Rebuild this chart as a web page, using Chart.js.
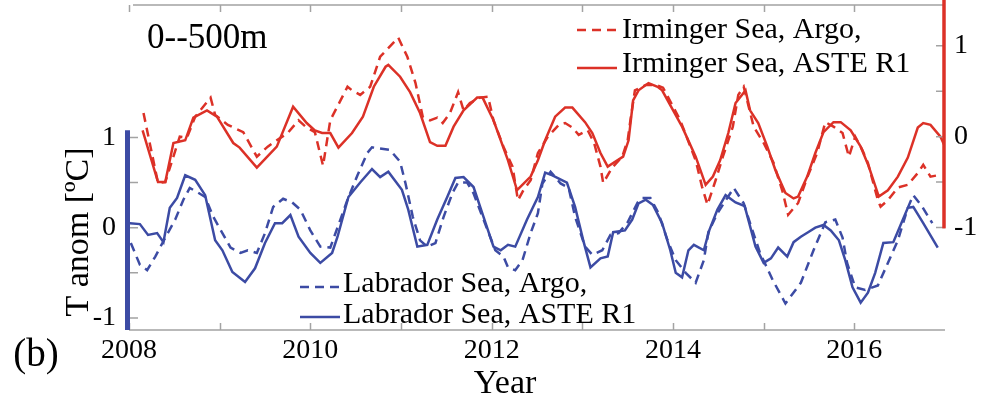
<!DOCTYPE html>
<html>
<head>
<meta charset="utf-8">
<script src="https://cdn.jsdelivr.net/npm/chart.js@4.4.1/dist/chart.umd.min.js"></script>
<style>
  html, body { margin: 0; padding: 0; background: #fff; }
  #wrap { width: 986px; height: 403px; }
</style>
</head>
<body>
<div id="wrap"><canvas id="tempChart" width="986" height="403"></canvas></div>
<script>
// Irminger Sea (right axis, red)
const irmArgoYears = [
  2008.16, 2008.32, 2008.40, 2008.56, 2008.64, 2008.73, 2008.90, 2008.95,
  2009.09, 2009.26, 2009.41, 2009.53, 2009.63, 2009.75, 2009.87, 2009.96,
  2010.05, 2010.14, 2010.22, 2010.41, 2010.46, 2010.55, 2010.66, 2010.77, 2010.97,
  2011.07, 2011.16, 2011.24, 2011.32, 2011.40, 2011.46, 2011.54, 2011.63, 2011.69, 2011.76, 2011.87, 2011.96,
  2012.02, 2012.13, 2012.23, 2012.29, 2012.35, 2012.43, 2012.51, 2012.62, 2012.74, 2012.81, 2012.89, 2012.96,
  2013.06, 2013.13, 2013.20, 2013.23, 2013.33, 2013.44, 2013.50, 2013.53, 2013.58, 2013.70, 2013.81, 2013.89,
  2014.08, 2014.25, 2014.32, 2014.38, 2014.47, 2014.55, 2014.66, 2014.72, 2014.78, 2014.89,
  2015.00, 2015.11, 2015.21, 2015.27, 2015.38, 2015.48, 2015.59, 2015.68, 2015.77, 2015.87, 2015.94,
  2016.01, 2016.09, 2016.15, 2016.26, 2016.29, 2016.37, 2016.48, 2016.59, 2016.70, 2016.76, 2016.84, 2016.95
];
const irmArgoT = [
  0.26, -0.51, -0.50, 0.00, -0.01, 0.22, 0.43, 0.24,
  0.13, 0.05, -0.22, -0.11, -0.04, 0.04, 0.18, 0.10,
  0.05, -0.32, 0.18, 0.55, 0.51, 0.46, 0.55, 0.88, 1.09,
  0.88, 0.59, 0.22, 0.18, 0.21, 0.15, 0.26, 0.49, 0.29, 0.37, 0.43, 0.44,
  0.18, -0.11, -0.33, -0.70, -0.59, -0.48, -0.18, 0.00, 0.13, 0.15, 0.10, 0.02,
  0.07, -0.07, -0.33, -0.51, -0.34, -0.22, -0.04, 0.18, 0.51, 0.57, 0.57, 0.54,
  0.18, -0.26, -0.55, -0.75, -0.48, -0.22, 0.11, 0.46, 0.55, 0.11,
  -0.07, -0.29, -0.61, -0.86, -0.73, -0.45, -0.18, 0.16, 0.11, 0.04, -0.22,
  0.00, -0.15, -0.29, -0.70, -0.77, -0.70, -0.56, -0.53, -0.40, -0.31, -0.44, -0.42
];
const irmAsteYears = [
  2008.15, 2008.32, 2008.40, 2008.49, 2008.62, 2008.71, 2008.86, 2008.97,
  2009.15, 2009.22, 2009.41, 2009.63, 2009.81, 2009.96,
  2010.05, 2010.13, 2010.22, 2010.31, 2010.46, 2010.58, 2010.70, 2010.83, 2010.86, 2010.99,
  2011.10, 2011.21, 2011.32, 2011.40, 2011.49, 2011.58, 2011.69, 2011.84, 2011.90,
  2012.02, 2012.18, 2012.28, 2012.43, 2012.51, 2012.59, 2012.70, 2012.81, 2012.89,
  2013.03, 2013.11, 2013.20, 2013.28, 2013.34, 2013.45, 2013.51, 2013.56, 2013.62, 2013.73, 2013.83, 2013.88,
  2014.10, 2014.25, 2014.36, 2014.44, 2014.52, 2014.61, 2014.69, 2014.80, 2014.85, 2014.94,
  2015.04, 2015.13, 2015.24, 2015.33, 2015.38, 2015.48, 2015.57, 2015.66, 2015.77, 2015.85, 2015.96,
  2016.07, 2016.16, 2016.27, 2016.37, 2016.48, 2016.59, 2016.70, 2016.76, 2016.84, 2016.95, 2017.00
];
const irmAsteT = [
  0.07, -0.50, -0.50, -0.07, -0.04, 0.21, 0.29, 0.22,
  -0.07, -0.12, -0.34, -0.11, 0.33, 0.15,
  0.07, 0.04, 0.04, -0.12, 0.04, 0.22, 0.55, 0.77, 0.79, 0.66,
  0.49, 0.26, -0.06, -0.10, -0.10, 0.11, 0.29, 0.43, 0.43,
  0.18, -0.26, -0.59, -0.44, -0.26, -0.04, 0.22, 0.32, 0.32,
  0.16, 0.04, -0.18, -0.33, -0.29, -0.22, -0.04, 0.40, 0.51, 0.59, 0.55, 0.51,
  0.11, -0.22, -0.53, -0.44, -0.26, 0.04, 0.37, 0.51, 0.29, 0.15,
  -0.11, -0.37, -0.62, -0.68, -0.66, -0.44, -0.18, 0.05, 0.16, 0.16, 0.07,
  -0.11, -0.33, -0.66, -0.59, -0.44, -0.23, 0.10, 0.15, 0.13, 0.00, -0.11
];

// Labrador Sea (left axis, blue)
const labArgoYears = [
  2008.02, 2008.12, 2008.20, 2008.29, 2008.40, 2008.51, 2008.60, 2008.67, 2008.76, 2008.84, 2008.93,
  2009.03, 2009.12, 2009.23, 2009.31, 2009.41, 2009.50, 2009.59, 2009.70, 2009.80, 2009.89,
  2010.00, 2010.11, 2010.22, 2010.31, 2010.41, 2010.52, 2010.63, 2010.68, 2010.88, 2010.99,
  2011.05, 2011.13, 2011.21, 2011.29, 2011.38, 2011.47, 2011.57, 2011.63, 2011.73, 2011.80, 2011.91,
  2012.04, 2012.13, 2012.18, 2012.26, 2012.34, 2012.43, 2012.51, 2012.56, 2012.65, 2012.76, 2012.85, 2012.92,
  2013.03, 2013.11, 2013.22, 2013.31, 2013.40, 2013.50, 2013.61, 2013.66, 2013.75, 2013.84, 2013.94,
  2014.03, 2014.14, 2014.25, 2014.34, 2014.39, 2014.49, 2014.58, 2014.67, 2014.78, 2014.85, 2014.96,
  2015.10, 2015.24, 2015.41, 2015.55, 2015.68, 2015.79, 2015.87, 2015.92,
  2016.01, 2016.12, 2016.26, 2016.37, 2016.48, 2016.59, 2016.65, 2016.75, 2016.86
];
const labArgoT = [
  -0.17, -0.41, -0.47, -0.32, -0.11, 0.09, 0.31, 0.44, 0.39, 0.34, 0.12,
  -0.06, -0.22, -0.28, -0.25, -0.28, -0.06, 0.23, 0.32, 0.28, 0.20,
  -0.03, -0.21, -0.22, 0.03, 0.31, 0.58, 0.83, 0.89, 0.86, 0.73,
  0.49, 0.12, -0.14, -0.21, -0.17, 0.12, 0.39, 0.50, 0.50, 0.38, 0.09,
  -0.25, -0.32, -0.44, -0.47, -0.36, -0.06, 0.16, 0.49, 0.62, 0.49, 0.44, 0.12,
  -0.21, -0.30, -0.25, -0.08, -0.06, 0.06, 0.28, 0.33, 0.33, 0.16, -0.14,
  -0.36, -0.50, -0.61, -0.36, -0.05, 0.16, 0.30, 0.44, 0.27, 0.05, -0.28,
  -0.58, -0.84, -0.61, -0.25, 0.06, 0.09, -0.11, -0.39,
  -0.66, -0.69, -0.64, -0.39, -0.14, 0.22, 0.36, 0.23, 0.05
];
const labAsteYears = [
  2008.01, 2008.12, 2008.21, 2008.31, 2008.38, 2008.45, 2008.53, 2008.62, 2008.73, 2008.84, 2008.95,
  2009.03, 2009.14, 2009.28, 2009.39, 2009.50, 2009.61, 2009.69, 2009.78, 2009.87,
  2010.00, 2010.11, 2010.24, 2010.30, 2010.42, 2010.55, 2010.68, 2010.77, 2010.86,
  2011.01, 2011.08, 2011.18, 2011.29, 2011.40, 2011.51, 2011.60, 2011.69, 2011.80, 2011.91,
  2012.02, 2012.10, 2012.18, 2012.26, 2012.39, 2012.51, 2012.59, 2012.67, 2012.83, 2012.92,
  2013.01, 2013.09, 2013.20, 2013.28, 2013.34, 2013.47, 2013.55, 2013.62, 2013.70, 2013.78, 2013.88, 2013.97,
  2014.03, 2014.10, 2014.17, 2014.23, 2014.34, 2014.40, 2014.49, 2014.58, 2014.69, 2014.79, 2014.91,
  2015.00, 2015.08, 2015.16, 2015.26, 2015.33, 2015.41, 2015.49, 2015.57, 2015.66, 2015.74, 2015.83, 2015.90, 2015.98,
  2016.07, 2016.15, 2016.23, 2016.32, 2016.43, 2016.51, 2016.59, 2016.65, 2016.76, 2016.92
];
const labAsteT = [
  0.05, 0.04, -0.08, -0.06, -0.16, 0.22, 0.33, 0.58, 0.53, 0.36, -0.14,
  -0.25, -0.49, -0.60, -0.45, -0.17, 0.05, 0.05, 0.14, -0.10,
  -0.28, -0.39, -0.28, -0.10, 0.34, 0.50, 0.65, 0.56, 0.62,
  0.42, 0.20, -0.21, -0.19, 0.09, 0.34, 0.55, 0.56, 0.45, 0.12,
  -0.21, -0.25, -0.19, -0.21, 0.09, 0.34, 0.61, 0.58, 0.50, 0.23,
  -0.14, -0.44, -0.34, -0.32, -0.05, -0.03, 0.09, 0.27, 0.31, 0.25, 0.05, -0.25,
  -0.50, -0.55, -0.25, -0.19, -0.25, -0.03, 0.20, 0.36, 0.28, 0.24, -0.21,
  -0.39, -0.34, -0.22, -0.32, -0.16, -0.10, -0.05, 0.00, 0.03, -0.03, -0.14, -0.36, -0.66,
  -0.83, -0.72, -0.50, -0.17, -0.16, 0.03, 0.22, 0.23, 0.05, -0.22
];

// axes
const xTickYears = [2008, 2009, 2010, 2011, 2012, 2013, 2014, 2015, 2016];
const xLabelYears = [2008, 2010, 2012, 2014, 2016];
const leftTicks = [-1, -0.5, 0, 0.5, 1];
const leftLabels = [-1, 0, 1];
const rightTicks = [-1, -0.5, 0, 0.5, 1];
const rightLabels = [-1, 0, 1];

const RED = "#dc3127";
const BLUE = "#3c4ba4";
const GREY = "#a3a3a3";
const SERIF = "'Liberation Serif', 'DejaVu Serif', serif";

const toPoints = (xs, ys) => xs.map((v, i) => ({ x: v, y: ys[i] }));

const isIn = (list, v) => list.some(l => Math.abs(l - v) < 1e-6);

const noPad = s => {
  s.paddingTop = 0; s.paddingBottom = 0;
  s.paddingLeft = 0; s.paddingRight = 0;
};

const decorPlugin = {
  id: "decor",
  afterDatasetsDraw(chart) {
    const { ctx, chartArea: a, scales } = chart;
    const { x, y, y1 } = scales;
    ctx.save();

    // grey top and bottom frame with inward ticks
    ctx.strokeStyle = GREY;
    ctx.lineWidth = 1.5;
    ctx.beginPath();
    ctx.moveTo(a.left, a.bottom); ctx.lineTo(a.right, a.bottom);
    ctx.moveTo(a.left + 4, a.top); ctx.lineTo(a.right, a.top);
    xTickYears.forEach(yr => {
      const px = Math.round(x.getPixelForValue(yr)) + 0.5;
      ctx.moveTo(px, a.bottom); ctx.lineTo(px, a.bottom - 7);
      ctx.moveTo(px, a.top); ctx.lineTo(px, a.top + 7);
    });
    leftTicks.forEach(v => {
      const py = y.getPixelForValue(v);
      ctx.moveTo(a.left, py); ctx.lineTo(a.left + 9, py);
    });
    rightTicks.forEach(v => {
      const py = y1.getPixelForValue(v);
      ctx.moveTo(a.right - 9, py); ctx.lineTo(a.right, py);
    });
    ctx.stroke();

    // coloured partial y axes
    ctx.lineWidth = 5;
    ctx.strokeStyle = BLUE;
    ctx.beginPath();
    ctx.moveTo(a.left - 1.5, y.getPixelForValue(1.08));
    ctx.lineTo(a.left - 1.5, a.bottom);
    ctx.stroke();

    ctx.lineWidth = 3.5;
    ctx.strokeStyle = RED;
    ctx.beginPath();
    ctx.moveTo(a.right - 1, 0);
    ctx.lineTo(a.right - 1, y1.getPixelForValue(-1.01));
    ctx.stroke();

    // texts
    ctx.fillStyle = "#000";
    ctx.textBaseline = "alphabetic";
    ctx.textAlign = "left";
    ctx.font = "35px " + SERIF;
    ctx.fillText("0--500m", 147, 48);

    ctx.textAlign = "center";
    ctx.font = "34px " + SERIF;
    ctx.fillText("Year", 505, 393);
    ctx.font = "39px " + SERIF;
    ctx.fillText("(b)", 36, 366);

    ctx.save();
    ctx.translate(88, 232);
    ctx.rotate(-Math.PI / 2);
    ctx.font = "34px " + SERIF;
    ctx.fillText("T anom [ºC]", 0, 0);
    ctx.restore();

    // legends
    const legendRow = (lx, ly, color, dashed, label, tx, tb) => {
      ctx.strokeStyle = color;
      ctx.lineWidth = 2.5;
      ctx.setLineDash(dashed ? [9, 6] : []);
      ctx.beginPath();
      ctx.moveTo(lx, ly); ctx.lineTo(lx + 40, ly);
      ctx.stroke();
      ctx.setLineDash([]);
      ctx.font = "30px " + SERIF;
      ctx.textAlign = "left";
      ctx.fillStyle = "#000";
      ctx.fillText(label, tx, tb);
    };
    legendRow(577, 30, RED, true, "Irminger Sea, Argo,", 622, 38);
    legendRow(577, 68, RED, false, "Irminger Sea, ASTE R1", 622, 72);
    legendRow(300, 287, BLUE, true, "Labrador Sea, Argo,", 343, 292);
    legendRow(300, 317, BLUE, false, "Labrador Sea, ASTE R1", 343, 323);

    ctx.restore();
  }
};

const lineStyle = (color, dashed, axis) => ({
  borderColor: color,
  borderWidth: 2.5,
  borderDash: dashed ? [9, 6] : [],
  pointRadius: 0,
  tension: 0,
  fill: false,
  yAxisID: axis
});

const tickFont = { family: SERIF, size: 28 };

new Chart(document.getElementById("tempChart"), {
  type: "line",
  data: {
    datasets: [
      { label: "Irminger Sea, Argo,", data: toPoints(irmArgoYears, irmArgoT), ...lineStyle(RED, true, "y1") },
      { label: "Irminger Sea, ASTE R1", data: toPoints(irmAsteYears, irmAsteT), ...lineStyle(RED, false, "y1") },
      { label: "Labrador Sea, Argo,", data: toPoints(labArgoYears, labArgoT), ...lineStyle(BLUE, true, "y") },
      { label: "Labrador Sea, ASTE R1", data: toPoints(labAsteYears, labAsteT), ...lineStyle(BLUE, false, "y") }
    ]
  },
  options: {
    responsive: false,
    animation: false,
    devicePixelRatio: 1,
    layout: { padding: { top: 5, left: 0, right: 0, bottom: 0 } },
    plugins: { legend: { display: false }, tooltip: { enabled: false } },
    scales: {
      x: {
        type: "linear",
        position: "bottom",
        min: 2008,
        max: 2017,
        afterBuildTicks: s => { s.ticks = xTickYears.map(v => ({ value: v })); },
        afterFit: s => { s.height = 73; noPad(s); },
        grid: { display: false, drawTicks: false },
        border: { display: false },
        ticks: {
          autoSkip: false,
          maxRotation: 0,
          padding: 4,
          color: "#000",
          font: tickFont,
          callback: v => (isIn(xLabelYears, v) ? String(v) : "")
        }
      },
      y: {
        type: "linear",
        position: "left",
        min: -1.133,
        max: 2.466,
        afterBuildTicks: s => { s.ticks = leftTicks.map(v => ({ value: v })); },
        afterFit: s => { s.width = 129; noPad(s); },
        grid: { display: false, drawTicks: false },
        border: { display: false },
        ticks: {
          padding: 13,
          color: "#000",
          font: tickFont,
          callback: v => (isIn(leftLabels, v) ? String(v) : "")
        }
      },
      y1: {
        type: "linear",
        position: "right",
        min: -2.129,
        max: 1.45,
        afterBuildTicks: s => { s.ticks = rightTicks.map(v => ({ value: v })); },
        afterFit: s => { s.width = 41; noPad(s); },
        grid: { display: false, drawTicks: false },
        border: { display: false },
        ticks: {
          padding: 9,
          color: "#000",
          font: tickFont,
          callback: v => (isIn(rightLabels, v) ? String(v) : "")
        }
      }
    }
  },
  plugins: [decorPlugin]
});
</script>
</body>
</html>
